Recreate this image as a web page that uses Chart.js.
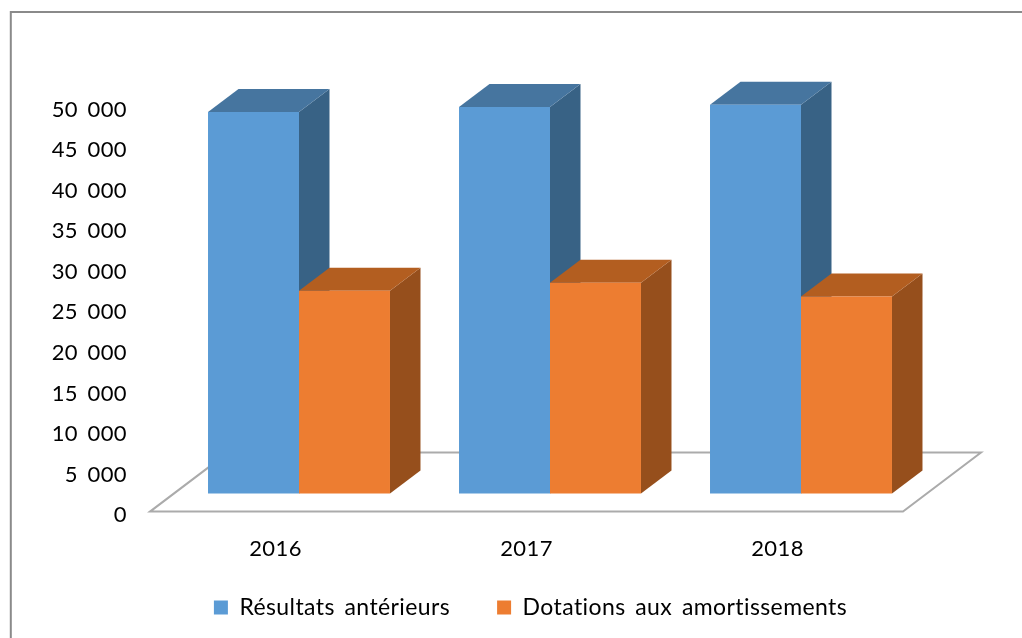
<!DOCTYPE html>
<html><head><meta charset="utf-8">
<style>html,body{margin:0;padding:0;background:#fff}#w{position:relative;width:1022px;height:638px;overflow:hidden}canvas{display:block;filter:blur(0.45px)}</style>
<script src="https://cdn.jsdelivr.net/npm/chart.js@4"></script>
</head><body><div id="w"><canvas id="c" width="1022" height="638"></canvas></div>
<script>
const categories = ['2016', '2017', '2018'];
const seriesNames = ['Résultats antérieurs', 'Dotations aux amortissements'];
const resultats = [47050, 47650, 47950];
const dotations = [25000, 26000, 24300];
const blue = '#5B9BD5', orange = '#ED7D31';
const faces = [{top:'#46759F', side:'#386285'}, {top:'#B35E20', side:'#964F1C'}];
const SHIFT_X = 23.5, LIFT_Y = 20, DEPTH_X = 30.5, DEPTH_Y = 23;

const poly = (ctx, pts, fill) => {
  ctx.beginPath();
  pts.forEach((p, i) => i ? ctx.lineTo(p[0], p[1]) : ctx.moveTo(p[0], p[1]));
  ctx.closePath(); ctx.fillStyle = fill; ctx.fill();
};
const threeD = {
  id: 'threeD',
  beforeUpdate(chart) {
    chart.ctx.letterSpacing = '0.4px';
    chart.ctx.wordSpacing = '3.5px';
  },
  afterLayout(chart) {
    const lg = chart.legend;
    lg.top = 549; lg.bottom = lg.top + lg.height;
    lg.left += 79; lg.right += 79;
    chart.scales.x.bottom = 600;
  },
  beforeDraw(chart) {
    const {ctx, chartArea: a} = chart;
    ctx.save();
    ctx.strokeStyle = '#8A8A8A'; ctx.lineWidth = 2;
    ctx.beginPath(); ctx.moveTo(10.8, 638); ctx.lineTo(10.8, 12); ctx.lineTo(1022, 12); ctx.stroke();
    ctx.strokeStyle = '#ABABAB'; ctx.lineWidth = 2;
    const fy = a.bottom - 2;
    ctx.beginPath();
    ctx.moveTo(a.left, fy);
    ctx.lineTo(a.right, fy);
    ctx.lineTo(a.right + 78, fy - 59);
    ctx.lineTo(a.left + 78, fy - 59);
    ctx.closePath(); ctx.stroke();
    ctx.restore();
  },
  beforeDatasetsDraw(chart) {
    const ctx = chart.ctx;
    ctx.save();
    ctx.translate(SHIFT_X, -LIFT_Y);
    categories.forEach((c, k) => {
      [0, 1].forEach(i => {
        const el = chart.getDatasetMeta(i).data[k];
        const l = el.x - el.width / 2, r = el.x + el.width / 2, t = el.y, b = el.base;
        poly(ctx, [[r, t], [r + DEPTH_X, t - DEPTH_Y], [r + DEPTH_X, b - DEPTH_Y], [r, b]], faces[i].side);
        poly(ctx, [[l, t], [l + DEPTH_X, t - DEPTH_Y], [r + DEPTH_X, t - DEPTH_Y], [r, t]], faces[i].top);
        el.draw(ctx);
      });
    });
    ctx.restore();
  },
  beforeDatasetDraw() { return false; }
};

new Chart(document.getElementById('c'), {
  type: 'bar',
  plugins: [threeD],
  data: {
    labels: categories,
    datasets: [
      {label: seriesNames[0], data: resultats, backgroundColor: blue},
      {label: seriesNames[1], data: dotations, backgroundColor: orange}
    ]
  },
  options: {
    responsive: false, animation: false,
    layout: {padding: {top: 108, right: 119, bottom: 0, left: 0}},
    datasets: {bar: {categoryPercentage: 0.725, barPercentage: 1}},
    plugins: {
      tooltip: {enabled: false},
      legend: {
        position: 'bottom',
        labels: {boxWidth: 14, boxHeight: 14, padding: 47, color: '#000', font: {family: 'Lato', size: 23}}
      }
    },
    scales: {
      x: {
        grid: {display: false}, border: {display: false},
        ticks: {color: '#000', padding: 14, font: {family: 'Lato', size: 22}, maxRotation: 0},
        afterFit(s) { s.height = 44.4; }
      },
      y: {
        min: 0, max: 50000,
        grid: {display: false}, border: {display: false},
        ticks: {
          stepSize: 5000, color: '#000', padding: 15, labelOffset: 1.5, font: {family: 'Lato', size: 22},
          callback: v => String(v).replace(/\B(?=(\d{3})+$)/g, ' ')
        },
        afterFit(s) { s.width = 150; }
      }
    }
  }
});
</script></body></html>
